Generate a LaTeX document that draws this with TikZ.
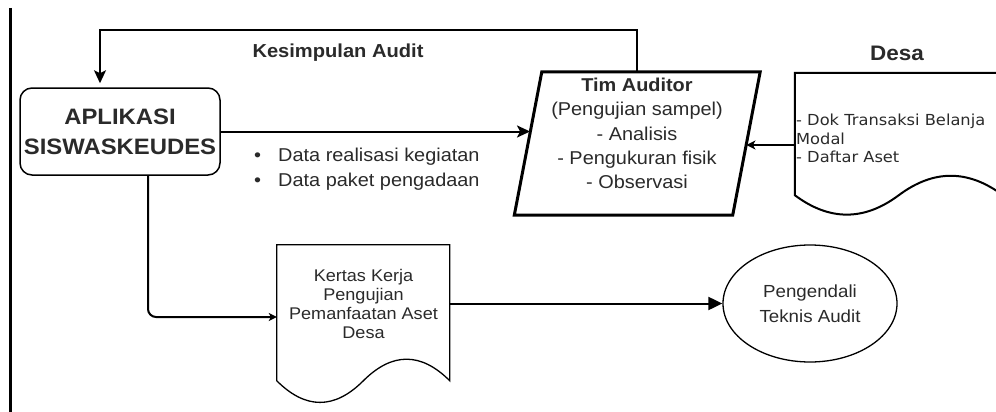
\documentclass[tikz,border=0pt]{standalone}
\usepackage{fontspec}
\setmainfont{Liberation Sans}[FakeStretch=1.07]
\newfontfamily\dejavu{DejaVu Sans}[FakeStretch=1.07]
\usetikzlibrary{arrows.meta,shapes.geometric,calc}
\definecolor{txt}{HTML}{2A2A2A}
\begin{document}
\begin{tikzpicture}[x=1pt,y=-1pt,
  appbox/.style={draw, line width=1.5pt, rounded corners=12pt, minimum width=200pt, minimum height=87pt,
    align=center, inner sep=0pt, text=txt, font=\fontsize{22.3}{30}\selectfont\bfseries},
  areabox/.style={draw=none, inner sep=0pt},
  lbl/.style={inner sep=0pt, text=txt, align=center},
  arrmain/.style={line width=2pt, -{Stealth[length=13pt,width=12pt,inset=3pt]}},
  arrthin/.style={line width=1.2pt, -{Stealth[length=9pt,width=9pt,inset=2.5pt]}},
  arrsmall/.style={line width=2pt, rounded corners=8pt, -{Stealth[length=8pt,width=8pt,inset=2pt]}},
  arrblock/.style={line width=2pt, -{Triangle[length=14pt,width=13pt]}},
  endbox/.style={ellipse, draw, line width=1.3pt, minimum width=174pt, minimum height=117pt, inner sep=0pt,
    align=center, text=txt, font=\fontsize{17.5}{25}\selectfont}
]
\useasboundingbox (0,0) rectangle (996,412);
\coordinate (topline) at (0,30);

% left margin rule
\draw[line width=3pt] (10,8) -- (10,412);

% APLIKASI SISWASKEUDES
\node[appbox] (app) at (120,131.5) {APLIKASI\\SISWASKEUDES};

% Tim Auditor parallelogram
\node[areabox, minimum width=218pt, minimum height=143pt] (aud) at (637.25,143.5) {};
\draw[line width=3pt, line join=miter]
  ($(aud.north west)+(13.75,0)$) -- ($(aud.north east)+(13.75,0)$) --
  ($(aud.south east)+(-13.75,0)$) -- ($(aud.south west)+(-13.75,0)$) -- cycle;
\node[lbl, font=\fontsize{18.6}{24.25}\selectfont] (audT) at (637,133.5)
  {\textbf{Tim Auditor}\\(Pengujian sampel)\\- Analisis\\- Pengukuran fisik\\- Observasi};

% Desa document
\node[areabox, minimum width=208pt, minimum height=144pt] (desa) at (899,145) {};
\begin{scope}[shift={(desa.north west)}]
  \draw[line width=2pt] (0,0) -- (208,0) -- (208,122.4)
    .. controls (173.3,96.5) and (138.7,96.5) .. (104,122.4)
    .. controls (69.3,148.3) and (34.7,148.3) .. (0,122.4) -- cycle;
\end{scope}
\node[lbl, anchor=west, align=left, inner sep=1pt, font=\dejavu\fontsize{15.2}{18.5}\selectfont] (desaT) at (795,138.5)
  {- Dok Transaksi Belanja\\Modal\\- Daftar Aset};
\node[lbl, font=\fontsize{21}{25}\selectfont\bfseries] (desaTitle) at (897,53) {Desa};

% Kertas Kerja document
\node[areabox, minimum width=173pt, minimum height=160pt] (kertas) at (363.5,325) {};
\begin{scope}[shift={(kertas.north west)}]
  \draw[line width=1.3pt] (0,0) -- (173,0) -- (173,136)
    .. controls (144.2,107.2) and (115.3,107.2) .. (86.5,136)
    .. controls (57.7,164.8) and (28.8,164.8) .. (0,136) -- cycle;
\end{scope}
\node[lbl, font=\fontsize{16.9}{19}\selectfont] (kertasT) at (363.5,303.5)
  {Kertas Kerja\\Pengujian\\Pemanfaatan Aset\\Desa};

% Pengendali Teknis Audit
\node[endbox] (pk) at (810,303.5) {Pengendali\\Teknis Audit};

% labels
\node[lbl, font=\fontsize{18.8}{24}\selectfont\bfseries] (kes) at (338,53) {Kesimpulan Audit};
\node[lbl, anchor=west, align=left, font=\fontsize{18.6}{25}\selectfont] (data) at (254,169.5)
  {\makebox[24pt][l]{\textbullet}Data realisasi kegiatan\\\makebox[24pt][l]{\textbullet}Data paket pengadaan};

% connectors
\draw[arrmain] (aud.north) -- (aud.north |- topline) -| ([xshift=-20pt,yshift=4pt]app.north);
\draw[arrmain] (app.east) -- ([xshift=2pt]app.east -| aud.west);
\draw[arrthin] (desa.west) -- (desa.west -| aud.east);
\draw[arrsmall] ([xshift=28pt]app.south) |- ([yshift=8pt]kertas.west);
\draw[arrblock] (pk.west -| kertas.east) -- (pk.west);
\end{tikzpicture}
\end{document}
